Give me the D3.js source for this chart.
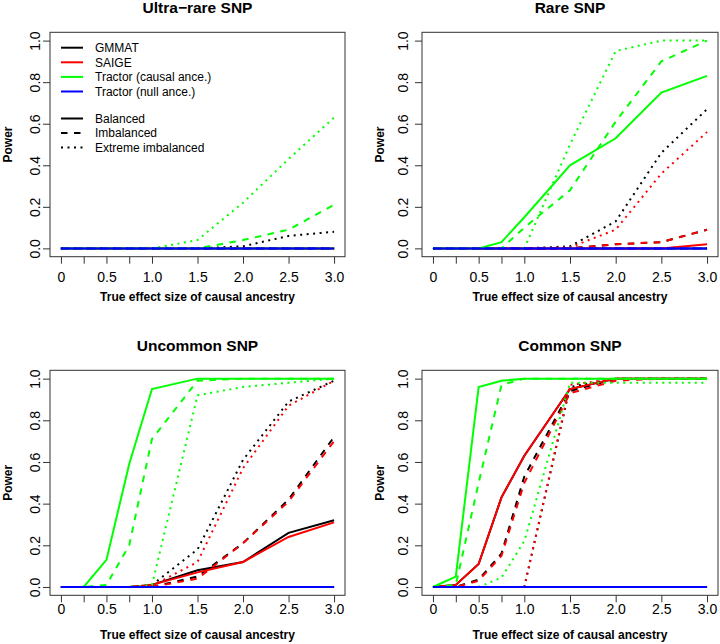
<!DOCTYPE html>
<html>
<head>
<meta charset="utf-8">
<script src="https://d3js.org/d3.v7.min.js"></script>
<style>
  body { margin: 0; background: #fff; }
  svg { display: block; }
</style>
</head>
<body>
<svg id="vis"></svg>
<script>
  // ---- data ----
  var xValues = [0, 0.25, 0.5, 0.75, 1.0, 1.5, 2.0, 2.5, 3.0];
  var xTicks = [0, 0.25, 0.5, 0.75, 1.0, 1.5, 2.0, 2.5, 3.0];
  var xTickLabels = ["0", "", "0.5", "", "1.0", "1.5", "2.0", "2.5", "3.0"];
  var yTicks = [0, 0.2, 0.4, 0.6, 0.8, 1.0];
  var yTickLabels = ["0.0", "0.2", "0.4", "0.6", "0.8", "1.0"];

  var panelTitles = ["Ultra\u2212rare SNP", "Rare SNP", "Uncommon SNP", "Common SNP"];
  var methods = ["GMMAT", "SAIGE", "Tractor (causal ance.)", "Tractor (null ance.)"];
  var designs = ["Balanced", "Imbalanced", "Extreme imbalanced"];
  var methodColors = ["#000000", "#ff0000", "#00ff00", "#0000ff"];

  // each array: [balanced, imbalanced, extreme imbalanced]
  var ultraRareGMMAT = [
    [0, 0, 0, 0, 0, 0, 0, 0, 0],
    [0, 0, 0, 0, 0, 0, 0, 0, 0],
    [0, 0, 0, 0, 0, 0, 0.01, 0.06, 0.08]];
  var ultraRareSAIGE = [
    [0, 0, 0, 0, 0, 0, 0, 0, 0],
    [0, 0, 0, 0, 0, 0, 0, 0, 0],
    [0, 0, 0, 0, 0, 0, 0, 0, 0]];
  var ultraRareTractorCausal = [
    [0, 0, 0, 0, 0, 0, 0, 0, 0],
    [0, 0, 0, 0, 0, 0, 0.04, 0.09, 0.21],
    [0, 0, 0, 0, 0, 0.04, 0.22, 0.43, 0.63]];
  var ultraRareTractorNull = [
    [0, 0, 0, 0, 0, 0, 0, 0, 0],
    [0, 0, 0, 0, 0, 0, 0, 0, 0],
    [0, 0, 0, 0, 0, 0, 0, 0, 0]];

  var rareGMMAT = [
    [0, 0, 0, 0, 0, 0, 0, 0, 0],
    [0, 0, 0, 0, 0, 0, 0.02, 0.03, 0.09],
    [0, 0, 0, 0, 0, 0.01, 0.13, 0.46, 0.67]];
  var rareSAIGE = [
    [0, 0, 0, 0, 0, 0, 0, 0, 0.02],
    [0, 0, 0, 0, 0, 0, 0.02, 0.03, 0.09],
    [0, 0, 0, 0, 0, 0.005, 0.09, 0.36, 0.56]];
  var rareTractorCausal = [
    [0, 0, 0, 0.03, 0.15, 0.40, 0.53, 0.75, 0.83],
    [0, 0, 0, 0, 0.10, 0.28, 0.61, 0.90, 1.0],
    [0, 0, 0, 0, 0, 0.50, 0.95, 1.0, 1.0]];
  var rareTractorNull = [
    [0, 0, 0, 0, 0, 0, 0, 0, 0],
    [0, 0, 0, 0, 0, 0, 0, 0, 0],
    [0, 0, 0, 0, 0, 0, 0, 0, 0]];

  var uncommonGMMAT = [
    [0, 0, 0, 0, 0.01, 0.08, 0.12, 0.26, 0.32],
    [0, 0, 0, 0, 0, 0.05, 0.21, 0.42, 0.72],
    [0, 0, 0, 0, 0.01, 0.18, 0.61, 0.89, 0.99]];
  var uncommonSAIGE = [
    [0, 0, 0, 0, 0.01, 0.07, 0.12, 0.24, 0.31],
    [0, 0, 0, 0, 0, 0.04, 0.21, 0.41, 0.70],
    [0, 0, 0, 0, 0.005, 0.12, 0.57, 0.87, 0.99]];
  var uncommonTractorCausal = [
    [0, 0, 0.13, 0.59, 0.95, 1.0, 1.0, 1.0, 1.0],
    [0, 0, 0.01, 0.20, 0.71, 0.99, 1.0, 1.0, 1.0],
    [0, 0, 0, 0, 0.01, 0.92, 0.96, 0.98, 1.0]];
  var uncommonTractorNull = [
    [0, 0, 0, 0, 0, 0, 0, 0, 0],
    [0, 0, 0, 0, 0, 0, 0, 0, 0],
    [0, 0, 0, 0, 0, 0, 0, 0, 0]];

  var commonGMMAT = [
    [0, 0.01, 0.11, 0.43, 0.63, 0.95, 1.0, 1.0, 1.0],
    [0, 0, 0.035, 0.16, 0.53, 0.94, 1.0, 1.0, 1.0],
    [0, 0, 0, 0, 0, 0.96, 1.0, 1.0, 1.0]];
  var commonSAIGE = [
    [0, 0.01, 0.11, 0.43, 0.63, 0.95, 1.0, 1.0, 1.0],
    [0, 0, 0.03, 0.15, 0.50, 0.93, 0.99, 1.0, 1.0],
    [0, 0, 0, 0, 0, 0.97, 1.0, 1.0, 1.0]];
  var commonTractorCausal = [
    [0, 0.05, 0.96, 0.99, 1.0, 1.0, 1.0, 1.0, 1.0],
    [0, 0.01, 0.50, 0.97, 1.0, 1.0, 1.0, 1.0, 1.0],
    [0, 0, 0, 0.045, 0.22, 0.98, 0.98, 0.98, 0.98]];
  var commonTractorNull = [
    [0, 0, 0, 0, 0, 0, 0, 0, 0],
    [0, 0, 0, 0, 0, 0, 0, 0, 0],
    [0, 0, 0, 0, 0, 0, 0, 0, 0]];

  var panelData = [
    [ultraRareGMMAT, ultraRareSAIGE, ultraRareTractorCausal, ultraRareTractorNull],
    [rareGMMAT, rareSAIGE, rareTractorCausal, rareTractorNull],
    [uncommonGMMAT, uncommonSAIGE, uncommonTractorCausal, uncommonTractorNull],
    [commonGMMAT, commonSAIGE, commonTractorCausal, commonTractorNull]
  ];

  // ---- layout ----
  var font = "'Liberation Sans', Arial, Helvetica, sans-serif";
  var dashes = [null, "6.5,6.5", "2,4.5"];
  var colX = [[50, 345], [422, 718]];
  var rowY = [[32.3, 256.7], [370.3, 595.3]];
  var xLabelOffset = [25, 19];   // baseline below box, per row
  var yLabelOffset = [10, 14];   // baseline left of box, per column

  var svg = d3.select("#vis")
    .attr("width", 720)
    .attr("height", 644)
    .style("font-family", font);

  svg.append("rect").attr("width", 720).attr("height", 644).attr("fill", "#fff");

  panelData.forEach(function(series, i) {
    var col = i % 2, row = Math.floor(i / 2);
    var x0 = colX[col][0], x1 = colX[col][1];
    var y0 = rowY[row][0], y1 = rowY[row][1];

    // R style: 4% padding on each side
    var x = d3.scaleLinear().domain([-0.12, 3.12]).range([x0, x1]);
    var y = d3.scaleLinear().domain([-0.04, 1.04]).range([y1, y0]);

    var g = svg.append("g");

    // lines
    var line = d3.line()
      .x(function(d, k) { return x(xValues[k]); })
      .y(function(d) { return y(d); });

    series.forEach(function(rows, m) {
      rows.forEach(function(vals, d) {
        g.append("path")
          .datum(vals)
          .attr("d", line)
          .attr("fill", "none")
          .attr("stroke", methodColors[m])
          .attr("stroke-width", 2)
          .attr("stroke-dasharray", dashes[d]);
      });
    });

    // box
    g.append("rect")
      .attr("x", x0).attr("y", y0)
      .attr("width", x1 - x0).attr("height", y1 - y0)
      .attr("fill", "none")
      .attr("stroke", "#333")
      .attr("stroke-width", 1);

    // x axis
    var xAxis = g.append("g")
      .attr("transform", "translate(0," + y1 + ")")
      .call(d3.axisBottom(x)
        .tickValues(xTicks)
        .tickFormat(function(d, k) { return xTickLabels[k]; })
        .tickSize(7)
        .tickSizeOuter(0));
    xAxis.select(".domain").remove();
    xAxis.selectAll("line").attr("stroke", "#333");
    xAxis.selectAll("text")
      .attr("y", xLabelOffset[row])
      .attr("dy", null)
      .attr("fill", "#000")
      .style("font-family", font)
      .style("font-size", "14px");

    // y axis
    var yAxis = g.append("g")
      .attr("transform", "translate(" + x0 + ",0)")
      .call(d3.axisLeft(y)
        .tickValues(yTicks)
        .tickFormat(function(d, k) { return yTickLabels[k]; })
        .tickSize(7)
        .tickSizeOuter(0));
    yAxis.select(".domain").remove();
    yAxis.selectAll("line").attr("stroke", "#333");
    yAxis.selectAll("text")
      .attr("x", null)
      .attr("dy", null)
      .attr("text-anchor", "middle")
      .attr("transform", "translate(" + (-yLabelOffset[col]) + ",0) rotate(-90)")
      .attr("fill", "#000")
      .style("font-family", font)
      .style("font-size", "14px");

    // title
    g.append("text")
      .attr("x", (x0 + x1) / 2)
      .attr("y", y0 - 19)
      .attr("text-anchor", "middle")
      .style("font-size", "15.5px")
      .style("font-weight", "bold")
      .text(panelTitles[i]);

    // axis titles
    g.append("text")
      .attr("x", (x0 + x1) / 2)
      .attr("y", y1 + 44)
      .attr("text-anchor", "middle")
      .style("font-size", "12px")
      .style("font-weight", "bold")
      .text("True effect size of causal ancestry");

    g.append("text")
      .attr("transform", "translate(" + (x0 - 38) + "," + ((y0 + y1) / 2) + ") rotate(-90)")
      .attr("text-anchor", "middle")
      .style("font-size", "12px")
      .style("font-weight", "bold")
      .text("Power");

    // legend in the first panel
    if (i === 0) {
      var leg = g.append("g");
      methods.forEach(function(name, m) {
        var ly = 47.7 + m * 14.6;
        leg.append("line")
          .attr("x1", 61).attr("x2", 83)
          .attr("y1", ly).attr("y2", ly)
          .attr("stroke", methodColors[m])
          .attr("stroke-width", 2);
        leg.append("text")
          .attr("x", 95).attr("y", ly).attr("dy", "0.35em")
          .style("font-size", "12px")
          .text(name);
      });
      designs.forEach(function(name, d) {
        var ly = 118.5 + d * 14.5;
        leg.append("line")
          .attr("x1", 61).attr("x2", 83)
          .attr("y1", ly).attr("y2", ly)
          .attr("stroke", "#000")
          .attr("stroke-width", 2)
          .attr("stroke-dasharray", dashes[d]);
        leg.append("text")
          .attr("x", 95).attr("y", ly).attr("dy", "0.35em")
          .style("font-size", "12px")
          .text(name);
      });
    }
  });
</script>
</body>
</html>
